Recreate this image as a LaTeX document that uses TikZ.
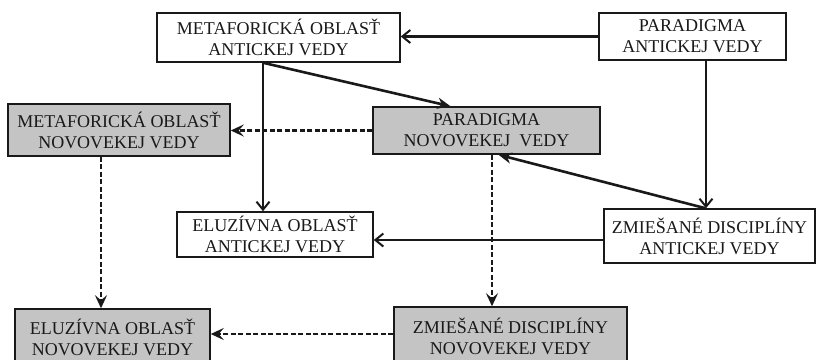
\documentclass[tikz,border=0pt]{standalone}
\usepackage{fontspec}
\setmainfont{Liberation Serif}
\usetikzlibrary{arrows.meta}
\definecolor{boxgray}{RGB}{196,196,196}
\definecolor{ink}{RGB}{25,25,25}
\tikzset{
  box/.style={draw=ink, line width=1.5pt, rectangle, inner sep=0pt, align=center,
    font=\fontsize{18}{21}\selectfont, text=ink},
  graybox/.style={box, fill=boxgray},
  solidarrow/.style={draw=ink, line width=2.2pt, -{Straight Barb[length=8pt,width=13pt,line width=2pt]}},
  thickarrow/.style={draw=ink, line width=2.6pt, -{Stealth[length=13pt,width=11pt,inset=4pt]}},
  dasharrow/.style={draw=ink, line width=2.2pt, dash pattern=on 5pt off 2.5pt, -{Stealth[length=13pt,width=12pt,inset=5pt]}}
}
\begin{document}
\begin{tikzpicture}[x=1pt,y=-1pt]
\clip (0,0) rectangle (816,359);
\useasboundingbox (0,0) rectangle (816,359);
\fill[white] (0,0) rectangle (816,359);

\node[box, minimum width=243pt, minimum height=49pt] (b1) at (278.5,37.5) {METAFORICKÁ OBLASŤ\\ANTICKEJ VEDY};
\node[box, minimum width=187pt, minimum height=47pt] (b2) at (692.5,36.5) {PARADIGMA\\ANTICKEJ VEDY};
\node[graybox, minimum width=222pt, minimum height=52pt] (b3) at (119,130) {METAFORICKÁ OBLASŤ\\NOVOVEKEJ VEDY};
\node[graybox, minimum width=227pt, minimum height=47pt] (b4) at (486.5,130.5) {PARADIGMA\\NOVOVEKEJ \ VEDY};
\node[box, minimum width=196pt, minimum height=45pt] (b5) at (275,234.5) {ELUZÍVNA OBLASŤ\\ANTICKEJ VEDY};
\node[box, minimum width=211pt, minimum height=54pt] (b6) at (709.5,236) {ZMIEŠANÉ DISCIPLÍNY\\ANTICKEJ VEDY};
\node[graybox, minimum width=195pt, minimum height=56pt] (b7) at (112.5,337) {ELUZÍVNA OBLASŤ\\NOVOVEKEJ VEDY};
\node[graybox, minimum width=233pt, minimum height=58pt] (b8) at (510.5,336) {ZMIEŠANÉ DISCIPLÍNY\\NOVOVEKEJ VEDY};

% solid connectors
\draw[solidarrow] (b2.west) -- (b2.west -| b1.east);
\draw[solidarrow] ([xshift=-15.5pt]b1.south) -- ([xshift=-15.5pt]b1.south |- b5.north);
\draw[thickarrow] ([xshift=-15.5pt]b1.south) -- ([xshift=-36pt]b4.north);
\draw[solidarrow] ([xshift=13.5pt]b2.south) -- ([xshift=13.5pt]b2.south |- b6.north);
\draw[thickarrow] ([xshift=-4pt]b6.north) -- ([xshift=12pt]b4.south);
\draw[solidarrow] ([yshift=-4pt]b6.west) -- ([yshift=-4pt]b6.west -| b5.east);

% dashed connectors
\draw[dasharrow] (b4.west) -- (b4.west -| b3.east);
\draw[dasharrow] ([xshift=-18pt]b3.south) -- ([xshift=-18pt]b3.south |- b7.north);
\draw[dasharrow] ([xshift=5.5pt]b4.south) -- ([xshift=5.5pt]b4.south |- b8.north);
\draw[dasharrow] ([yshift=2pt]b8.west) -- ([yshift=2pt]b8.west -| b7.east);
\end{tikzpicture}
\end{document}
